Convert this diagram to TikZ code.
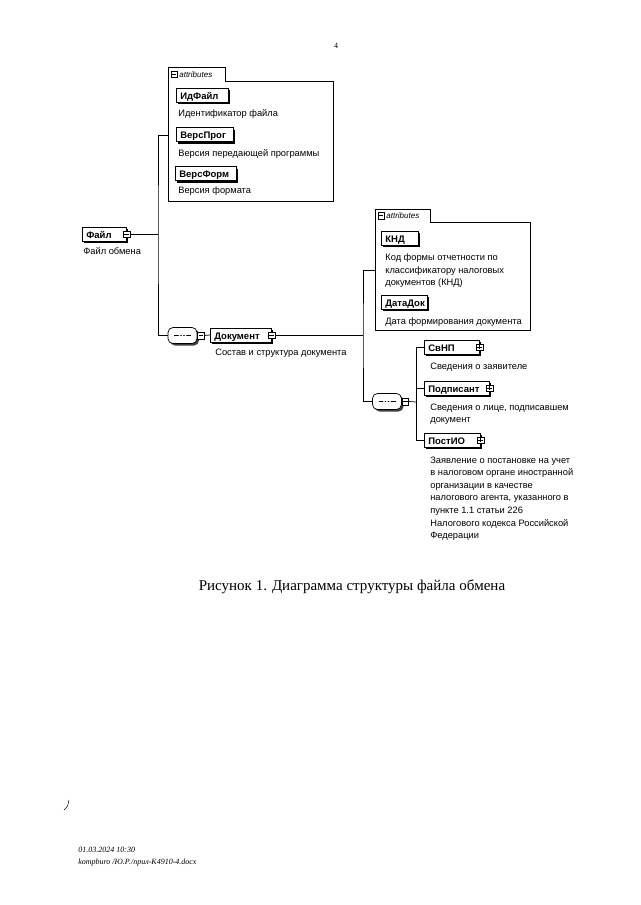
\documentclass[tikz,border=0pt]{standalone}
\usepackage{fontspec}
\setmainfont{Liberation Serif}
\newfontfamily\diagfont{Liberation Sans}
\usetikzlibrary{positioning}
\usetikzlibrary{shadows}

\begin{document}
\begin{tikzpicture}[x=1pt, y=-1pt, line width=0.7pt,
	elem/.style = {draw, fill=white, anchor=west, minimum height=14pt, inner xsep=4pt, inner ysep=0pt, text width=#1, align=left, text height=9pt, text depth=0.5pt, font=\diagfont\bfseries\fontsize{9.5}{10}\selectfont, general shadow={shadow xshift=2pt, shadow yshift=-2pt, fill=black}},
	desc/.style = {align=left, inner sep=0pt, font=\diagfont\fontsize{9.3}{12.6}\selectfont},
	minus/.style = {draw, fill=white, minimum size=6.5pt, inner sep=0pt, line width=0.5pt, path picture={\draw ([xshift=1pt]path picture bounding box.west) -- ([xshift=-1pt]path picture bounding box.east);}},
	plus/.style = {draw, fill=white, minimum size=6.5pt, inner sep=0pt, line width=0.5pt, path picture={\draw ([xshift=1pt]path picture bounding box.west) -- ([xshift=-1pt]path picture bounding box.east); \draw ([yshift=-1pt]path picture bounding box.north) -- ([yshift=1pt]path picture bounding box.south);}},
	seq/.style = {draw, fill=white, rounded corners=5pt, minimum width=29pt, minimum height=16pt, inner sep=0pt, general shadow={shadow xshift=2pt, shadow yshift=-2pt, fill=black!75}, path picture={\draw ([xshift=6pt]path picture bounding box.west) -- ([xshift=-6pt]path picture bounding box.east); \fill (path picture bounding box.center) circle (0.9pt) ([xshift=-3pt]path picture bounding box.center) circle (0.9pt) ([xshift=3pt]path picture bounding box.center) circle (0.9pt);}},
	attrbox/.style = {anchor=north west, inner sep=0pt},
	tab/.style = {anchor=south west, inner sep=0pt},
	tabtext/.style = {anchor=west, inner sep=0pt, font=\diagfont\itshape\fontsize{8}{9}\selectfont}]
	\useasboundingbox (0,0) rectangle (640,905);

	% page number
	\node[font=\fontsize{8}{9}\selectfont] (pg) at (336,46) {4};

	% root element
	\node[elem=36pt] (f) at (82,234) {Файл};
	\node[minus] (fm) at (f.east) {};
	\node[desc] (fd) [below right=6pt and 1pt of f.south west] {Файл обмена};
	\coordinate (j1) at (158,234);

	% attributes of the file
	\node[attrbox, minimum width=165pt, minimum height=120pt] (a1) at (168,81) {};
	\node[tab, minimum width=57pt, minimum height=13pt] (t1) at (a1.north west) {};
	\draw (a1.south west) |- (t1.north east) |- (a1.north east) -- (a1.south east) -- cycle;
	\node[minus] (t1m) at ([xshift=6pt]t1.west) {};
	\node[tabtext] (t1l) at ([xshift=11pt]t1.west) {attributes};
	\node[elem=44pt] (idf) at (176,95) {ИдФайл};
	\node[desc] (idfd) [below right=7pt and 2pt of idf.south west] {Идентификатор файла};
	\node[elem=49pt] (vp) at (176,134.5) {ВерсПрог};
	\node[desc] (vpd) [below right=7pt and 2pt of vp.south west] {Версия передающей программы};
	\node[elem=53pt] (vf) at (175,173.5) {ВерсФорм};
	\node[desc] (vfd) [below right=6pt and 3pt of vf.south west] {Версия формата};

	% sequence and document
	\node[seq] (s1) at (182.5,335.5) {};
	\node[minus, anchor=west] (s1m) at (s1.east) {};
	\node[elem=53pt] (d) at (210,335) {Документ};
	\node[minus] (dm) at (d.east) {};
	\node[desc] (dd) [below right=6pt and 5pt of d.south west] {Состав и структура документа};
	\coordinate (j2) at (363,335);

	% attributes of the document
	\node[attrbox, minimum width=155pt, minimum height=108pt] (a2) at (375,222) {};
	\node[tab, minimum width=55pt, minimum height=12pt] (t2) at (a2.north west) {};
	\draw (a2.south west) |- (t2.north east) |- (a2.north east) -- (a2.south east) -- cycle;
	\node[minus] (t2m) at ([xshift=6pt]t2.west) {};
	\node[tabtext] (t2l) at ([xshift=11pt]t2.west) {attributes};
	\node[elem=29pt] (knd) at (381,238) {КНД};
	\node[desc] (kndd) [below right=8pt and 4pt of knd.south west] {Код формы отчетности по\\классификатору налоговых\\документов (КНД)};
	\node[elem=38pt] (dat) at (381,302) {ДатаДок};
	\node[desc] (datd) [below right=8pt and 4pt of dat.south west] {Дата формирования документа};

	% children of the document
	\node[seq] (s2) at (387,401.5) {};
	\node[minus, anchor=west] (s2m) at (s2.east) {};
	\coordinate (j3) at (416,402);
	\node[elem=47pt] (svnp) at (424,347) {СвНП};
	\node[plus] (svnpm) at (svnp.east) {};
	\node[desc] (svnpd) [below right=8pt and 6pt of svnp.south west] {Сведения о заявителе};
	\node[elem=57pt] (podp) at (424,388) {Подписант};
	\node[plus] (podpm) at (podp.east) {};
	\node[desc] (podpd) [below right=8pt and 6pt of podp.south west] {Сведения о лице, подписавшем\\документ};
	\node[elem=48pt] (postio) at (424,440) {ПостИО};
	\node[plus] (postiom) at (postio.east) {};
	\node[desc] (postiod) [below right=9pt and 6pt of postio.south west] {Заявление о постановке на учет\\в налоговом органе иностранной\\организации в качестве\\налогового агента, указанного в\\пункте 1.1 статьи 226\\Налогового кодекса Российской\\Федерации};

	% connectors
	\draw (fm.east) -- (j1);
	\draw ([yshift=6.5pt]a1.west) -| (j1) |- (s1.west);
	\draw (s1m.east) -- (d.west);
	\draw (dm.east) -- (j2);
	\draw ([yshift=6pt]a2.west) -| (j2) |- (s2.west);
	\draw (s2m.east) -- (j3);
	\draw (svnp.west) -| (j3);
	\draw (podp.west) -| (j3);
	\draw (postio.west) -| (j3);

	% caption and footer
	\node[font=\fontsize{15}{18}\selectfont] (cap) at (352,587) {Рисунок 1. Диаграмма структуры файла обмена};
	\coordinate (sc) at (64,810);
	\draw[line width=0.5pt] (sc) .. controls (67,808) and (68,806) .. (69,800);
	\node[anchor=north west, align=left, inner sep=0pt, font=\itshape\fontsize{8}{12}\selectfont] (foot) at (78,847) {01.03.2024 10:30\\kompburo /Ю.Р./прил-К4910-4.docx};
\end{tikzpicture}
\end{document}
